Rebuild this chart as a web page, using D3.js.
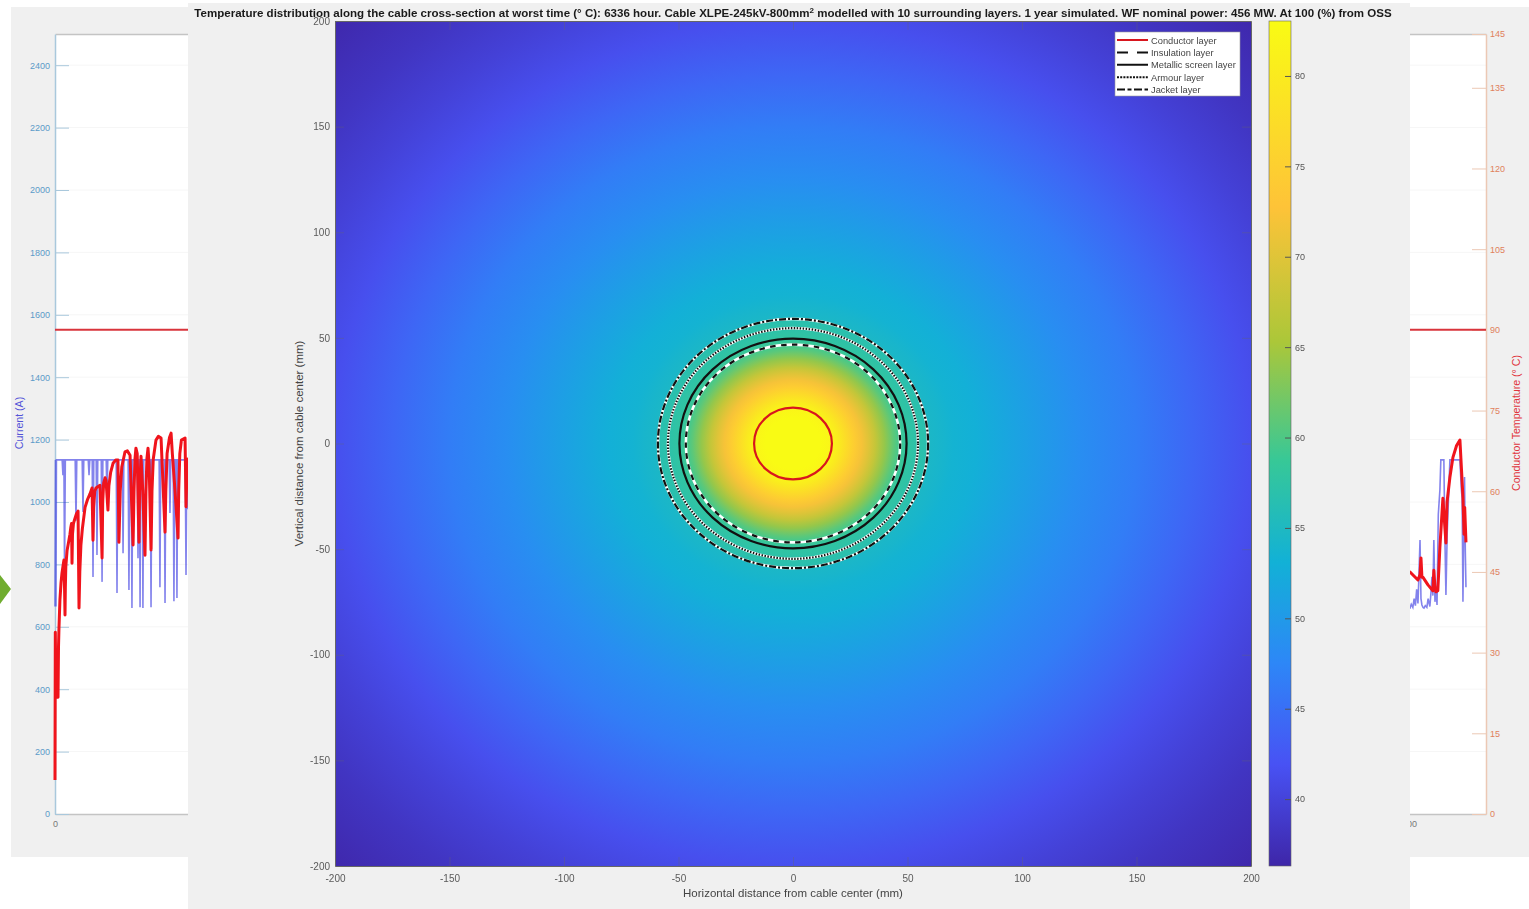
<!DOCTYPE html>
<html>
<head>
<meta charset="utf-8">
<script src="https://cdn.jsdelivr.net/npm/d3@7"></script>
<style>
    body { margin: 0; background: #fff; }
    text { font-family: "Liberation Sans", Arial, sans-serif; }
    svg { filter: blur(0.35px); }
</style>
</head>
<body>
<div id="chart"></div>
<script>
// ---- data ----
const currentTicks = [0, 200, 400, 600, 800, 1000, 1200, 1400, 1600, 1800, 2000, 2200, 2400];
const tempTicks = [0, 15, 30, 45, 60, 75, 90, 105, 120, 135, 145];
const hourTicks = [0, 8500];
const tempLimit = 90;

// current (A), the part of the year that is not hidden by the front figure
const currentHours = [0, 3, 6, 9, 45, 50, 55, 56, 60, 65, 127, 132, 137, 171, 176, 181, 209, 214, 219, 234, 239, 244, 259, 264, 269,
    291, 296, 301, 322, 327, 332, 385, 390, 395, 423, 428, 433, 460, 465, 470, 479, 484, 489, 517, 522, 527, 531, 535, 539, 549, 553, 558,
    599, 604, 609, 655, 660, 665, 687, 692, 697, 718, 723, 728, 743, 748, 753, 762, 767, 772, 819, 824, 829, 836,
    8522, 8530, 8540, 8548, 8556, 8564, 8572, 8578, 8585, 8591, 8597, 8604, 8610, 8618, 8628, 8636, 8647, 8654, 8660, 8666, 8672, 8679, 8685, 8692, 8700, 8710, 8716, 8722, 8735, 8741, 8748, 8756, 8773, 8836, 8845, 8850, 8855, 8860, 8865, 8870, 8874];
const currentValues = [665, 1135, 665, 1135, 1135, 1086, 1135, 1135, 780, 1135, 1135, 940, 1135, 1135, 968, 1135, 1135, 1086, 1135, 1135, 760, 1135, 1135, 830, 1135,
    1135, 744, 1135, 1135, 1013, 1135, 1135, 708, 1135, 1135, 836, 1135, 1135, 718, 1135, 1135, 660, 1135, 1135, 820, 1135, 1135, 663, 1135, 1135, 660, 1135,
    1135, 663, 1135, 1135, 727, 1135, 1135, 676, 1135, 1135, 965, 1135, 1135, 682, 1135, 1135, 692, 1135, 1135, 766, 1135, 980,
    660, 672, 662, 690, 668, 720, 675, 760, 878, 690, 670, 662, 660, 668, 662, 690, 665, 710, 760, 700, 878, 680, 730, 670, 960, 1038, 1135, 1135, 1135, 900, 702, 900, 1135, 1135, 1040, 1010, 680, 900, 1080, 840, 727];

// conductor temperature (deg C)
const tempHours = [0, 2, 6, 19, 22, 25, 31, 38, 44, 50, 56, 60, 63, 65, 68, 76, 88, 94, 99, 104, 107, 110, 116, 126, 135, 145, 151, 156, 163, 172, 189, 205, 220, 233, 239, 243, 250, 258, 283, 296, 300, 306, 315, 321, 333, 339, 350, 365, 382, 396, 402,
    410, 420, 440, 455, 472, 491, 497, 503, 509, 517, 528, 532, 541, 552, 566, 572, 578, 585, 592, 604, 610, 618, 635, 650, 667, 692, 697, 705, 720, 730, 738, 755, 774, 778, 785, 795, 818, 824, 830, 836,
    8522, 8572, 8585, 8591, 8597, 8604, 8635, 8666, 8672, 8679, 8685, 8697, 8710, 8729, 8748, 8755, 8773, 8792, 8815, 8836, 8855, 8862, 8866, 8874];
const tempValues = [6.3, 33.8, 21.7, 21.7, 31, 34.6, 39.8, 43, 44.8, 46, 47.2, 42, 37, 42, 46, 49, 51, 52, 53.2, 54, 46.6, 52, 54, 55, 55.8, 56.3, 38.3, 45, 50, 53, 57, 58.5, 59.5, 60.6, 50.9, 57, 60, 60.6, 61.1, 47.6, 58, 61.5, 62.5, 62, 56.5, 61, 63.5, 65.2, 65.8, 65.8, 50.5,
    60, 64.5, 67.3, 67.5, 66.7, 50, 60, 66, 68, 67, 50.5, 60, 66.5, 60, 48.1, 60, 66, 68, 65, 49.1, 60, 66, 69.5, 70.2, 69.9, 52.4, 60, 67, 70, 70.8, 67, 60, 51.3, 60, 67, 69.5, 69.9, 57.1, 64, 66,
    45, 43.5, 44.5, 47.6, 44, 44, 42.6, 41.5, 45.3, 42, 41.3, 41.5, 49.6, 58.7, 50.4, 58, 62.6, 66.3, 68.5, 69.5, 58.9, 52, 57, 50.5];

// temperature seen at a given distance from the cable center
const profileRadius = [0, 12, 17, 20, 23, 27, 30, 33, 36, 40, 44, 47, 50, 55, 59, 60, 65, 70, 80, 100, 125, 150, 175, 200, 225, 250, 283];
const profileTemp = [83.2, 83, 82, 80, 77.5, 74.5, 72, 70, 67.5, 64, 60.8, 59, 57.8, 57, 56.5, 54.5, 54, 53.5, 53, 51, 48.5, 46.5, 44, 41.5, 39.8, 38.2, 36.6];

// cable layers
const layerNames = ["Conductor layer", "Insulation layer", "Metallic screen layer", "Armour layer", "Jacket layer"];
const layerRadius = [17, 46.8, 49.6, 54.6, 59];
const layerColors = ["#d8161e", "#111", "#111", "#111", "#111"];
const layerDash = [null, "5.5,5.5", null, "1.5,1.5", "7,2,2,2"];
const legendDash = [null, "11,9", null, "2,1.2", "8,2.5,4,2.5"];
const layerHalo = [false, true, false, true, true];

const mainTicks = [-200, -150, -100, -50, 0, 50, 100, 150, 200];
const barTicks = [40, 45, 50, 55, 60, 65, 70, 75, 80];
const parulaStops = ["#3e26a8", "#4852f4", "#2d87f7", "#12b1d6", "#37c897", "#abc739", "#fec338", "#f9fb14"];
const parulaAt = [0, 0.12, 0.24, 0.36, 0.48, 0.62, 0.78, 1];

const canvWidth = 1529;
const canvHeight = 909;

// create svg canvas
const svg = d3.select("#chart").append("svg")
    .attr("width", canvWidth)
    .attr("height", canvHeight)
    .style("display", "block");
const defs = svg.append("defs");

// ---- figure at the back ----
svg.append("rect")
    .attr("x", 11).attr("y", 7)
    .attr("width", canvWidth - 11).attr("height", 850)
    .attr("fill", "#f0f0f0");

// green arrow at the slide edge
svg.append("polygon")
    .attr("points", "0,575 11,589 0,604")
    .attr("fill", "#70ad2f");

const hourScale = d3.scaleLinear().domain([0, 9000]).range([55, 1486]);
const currentScale = d3.scaleLinear().domain([0, 2500]).range([814, 34]);
const tempScale = d3.scaleLinear().domain([0, 145]).range([814, 34]);

svg.append("rect")
    .attr("x", hourScale(0)).attr("y", currentScale(2500))
    .attr("width", hourScale(9000) - hourScale(0))
    .attr("height", currentScale(0) - currentScale(2500))
    .attr("fill", "#fff");

// grid
svg.append("g").selectAll("line")
    .data(currentTicks.slice(1))
    .join("line")
    .attr("x1", hourScale(0)).attr("x2", hourScale(9000))
    .attr("y1", d => currentScale(d)).attr("y2", d => currentScale(d))
    .attr("stroke", "#f6f6f6");

function styleAxis(g, lineColor, textColor, size) {
    g.selectAll("path").attr("stroke", lineColor).attr("stroke-width", 1.5);
    g.selectAll("line").attr("stroke", lineColor);
    g.selectAll("text")
        .attr("fill", textColor)
        .attr("font-size", size)
        .attr("font-family", "'Liberation Sans', Arial, sans-serif");
}

// back axes
svg.append("g")
    .attr("transform", `translate(0,${currentScale(2500)})`)
    .call(d3.axisTop(hourScale).tickValues([]).tickSizeOuter(0))
    .call(styleAxis, "#c4c4c4", "#777", 9);
svg.append("g")
    .attr("transform", `translate(0,${currentScale(0)})`)
    .call(d3.axisBottom(hourScale).tickValues(hourTicks).tickSize(0).tickPadding(7).tickFormat(d => d))
    .call(styleAxis, "#c4c4c4", "#777", 9);
svg.append("g")
    .attr("transform", `translate(${hourScale(0)},0)`)
    .call(d3.axisLeft(currentScale).tickValues(currentTicks).tickSize(-14).tickSizeOuter(0).tickPadding(5).tickFormat(d => d))
    .call(styleAxis, "#a9c8dc", "#5b9ac8", 9);
svg.append("g")
    .attr("transform", `translate(${hourScale(9000)},0)`)
    .call(d3.axisRight(tempScale).tickValues(tempTicks).tickSize(-14).tickSizeOuter(0).tickPadding(4))
    .call(styleAxis, "#ecc8b4", "#e0805c", 9);

// limit line
svg.append("line")
    .attr("x1", hourScale(0)).attr("x2", hourScale(9000))
    .attr("y1", tempScale(tempLimit)).attr("y2", tempScale(tempLimit))
    .attr("stroke", "#d9343c")
    .attr("stroke-width", 2);

// current and temperature
const currentLine = d3.line().x(d => hourScale(d[0])).y(d => currentScale(d[1]));
const tempLine = d3.line().x(d => hourScale(d[0])).y(d => tempScale(d[1]));

svg.append("path")
    .attr("d", currentLine(d3.zip(currentHours, currentValues)))
    .attr("fill", "none")
    .attr("stroke", "#3030e0")
    .attr("stroke-opacity", 0.6)
    .attr("stroke-width", 1.6);

svg.append("path")
    .attr("d", tempLine(d3.zip(tempHours, tempValues)))
    .attr("fill", "none")
    .attr("stroke", "#f0141c")
    .attr("stroke-linejoin", "round")
    .attr("stroke-width", 3);

svg.append("text")
    .attr("transform", "translate(23,423) rotate(-90)")
    .attr("text-anchor", "middle")
    .attr("font-size", 10.6)
    .attr("fill", "#5252d8")
    .text("Current (A)");
svg.append("text")
    .attr("transform", "translate(1520,423) rotate(-90)")
    .attr("text-anchor", "middle")
    .attr("font-size", 10.6)
    .attr("fill", "#e0343c")
    .text("Conductor Temperature (° C)");

// ---- figure in front ----
svg.append("rect")
    .attr("x", 188).attr("y", 3)
    .attr("width", 1222).attr("height", canvHeight - 3)
    .attr("fill", "#f0f0f0");

const xMain = d3.scaleLinear().domain([-200, 200]).range([335, 1251]);
const yMain = d3.scaleLinear().domain([-200, 200]).range([866, 21]);
const barScale = d3.scaleLinear().domain([36.3, 83.04]).range([866, 21]);

const colorScale = d3.scaleLinear()
    .domain(parulaAt.map(d => 36.3 + d * (83.04 - 36.3)))
    .range(parulaStops)
    .clamp(true);

// temperature field
const maxRadius = d3.max(profileRadius);
const field = defs.append("radialGradient")
    .attr("id", "field")
    .attr("gradientUnits", "userSpaceOnUse")
    .attr("cx", 0).attr("cy", 0).attr("r", 1)
    .attr("gradientTransform", `translate(${xMain(0)},${yMain(0)}) scale(${xMain(maxRadius) - xMain(0)},${yMain(0) - yMain(maxRadius)})`);
field.selectAll("stop")
    .data(profileRadius)
    .join("stop")
    .attr("offset", d => d / maxRadius)
    .attr("stop-color", (d, i) => colorScale(profileTemp[i]));

svg.append("rect")
    .attr("x", xMain(-200)).attr("y", yMain(200))
    .attr("width", xMain(200) - xMain(-200))
    .attr("height", yMain(-200) - yMain(200))
    .attr("fill", "url(#field)");

// cable layers
const layers = svg.append("g").attr("fill", "none");
layerRadius.forEach(function (r, i) {
    if (layerHalo[i]) {
        layers.append("ellipse")
            .attr("cx", xMain(0)).attr("cy", yMain(0))
            .attr("rx", xMain(r) - xMain(0)).attr("ry", yMain(0) - yMain(r))
            .attr("stroke", "#fff")
            .attr("stroke-width", 2.6);
    }
    layers.append("ellipse")
        .attr("cx", xMain(0)).attr("cy", yMain(0))
        .attr("rx", xMain(r) - xMain(0)).attr("ry", yMain(0) - yMain(r))
        .attr("stroke", layerColors[i])
        .attr("stroke-dasharray", layerDash[i])
        .attr("stroke-width", 2.2);
});

// main axes, ticks are faint on the field
function faintTicks(g) {
    g.selectAll(".tick line").attr("stroke-opacity", 0.35);
    g.select(".domain").attr("stroke-width", 1);
}
svg.append("g")
    .attr("transform", `translate(0,${yMain(-200)})`)
    .call(d3.axisBottom(xMain).tickValues(mainTicks).tickSize(-9).tickSizeOuter(0).tickPadding(9).tickFormat(d => d))
    .call(styleAxis, "#666", "#5a5a5a", 10)
    .call(faintTicks);
svg.append("g")
    .attr("transform", `translate(${xMain(-200)},0)`)
    .call(d3.axisLeft(yMain).tickValues(mainTicks).tickSize(-9).tickSizeOuter(0).tickPadding(5).tickFormat(d => d))
    .call(styleAxis, "#666", "#5a5a5a", 10)
    .call(faintTicks);
svg.append("g")
    .attr("transform", `translate(0,${yMain(200)})`)
    .call(d3.axisTop(xMain).tickValues(mainTicks).tickSize(-9).tickSizeOuter(0).tickFormat(""))
    .call(styleAxis, "#666", "#5a5a5a", 10)
    .call(faintTicks);
svg.append("g")
    .attr("transform", `translate(${xMain(200)},0)`)
    .call(d3.axisRight(yMain).tickValues(mainTicks).tickSize(-9).tickSizeOuter(0).tickFormat(""))
    .call(styleAxis, "#666", "#5a5a5a", 10)
    .call(faintTicks);

svg.append("text")
    .attr("x", xMain(0)).attr("y", 897)
    .attr("text-anchor", "middle")
    .attr("font-size", 11.5)
    .attr("fill", "#444")
    .text("Horizontal distance from cable center (mm)");
svg.append("text")
    .attr("transform", `translate(303,${yMain(0)}) rotate(-90)`)
    .attr("text-anchor", "middle")
    .attr("font-size", 11.5)
    .attr("fill", "#444")
    .text("Vertical distance from cable center (mm)");

// title
const title = svg.append("text")
    .attr("x", xMain(0)).attr("y", 16.5)
    .attr("text-anchor", "middle")
    .attr("font-size", 11.55)
    .attr("font-weight", "bold")
    .attr("fill", "#1a1a1a");
title.append("tspan").text("Temperature distribution along the cable cross-section at worst time (° C): 6336 hour. Cable XLPE-245kV-800mm");
title.append("tspan").attr("dy", -4).attr("font-size", 8).text("2");
title.append("tspan").attr("dy", 4).text(" modelled with 10 surrounding layers. 1 year simulated. WF nominal power: 456 MW. At 100 (%) from OSS");

// colorbar
const barGradient = defs.append("linearGradient")
    .attr("id", "bar")
    .attr("x1", 0).attr("x2", 0).attr("y1", 1).attr("y2", 0);
barGradient.selectAll("stop")
    .data(parulaAt)
    .join("stop")
    .attr("offset", d => d)
    .attr("stop-color", (d, i) => parulaStops[i]);

svg.append("rect")
    .attr("x", 1269).attr("y", barScale(83.04))
    .attr("width", 22)
    .attr("height", barScale(36.3) - barScale(83.04))
    .attr("fill", "url(#bar)")
    .attr("stroke", "#666")
    .attr("stroke-width", 0.6);
svg.append("g")
    .attr("transform", "translate(1291,0)")
    .call(d3.axisRight(barScale).tickValues(barTicks).tickSize(-6).tickSizeOuter(0).tickPadding(4))
    .call(styleAxis, "#555", "#555", 9)
    .call(g => g.select(".domain").remove());

// legend
svg.append("rect")
    .attr("x", 1115).attr("y", 32)
    .attr("width", 125).attr("height", 64)
    .attr("fill", "#fff")
    .attr("stroke", "#999")
    .attr("stroke-width", 0.6);
const legendScale = d3.scalePoint().domain(layerNames).range([40, 89.5]);
const legendRow = svg.append("g").selectAll("g")
    .data(layerNames)
    .join("g")
    .attr("transform", d => `translate(0,${legendScale(d)})`);
legendRow.append("line")
    .attr("x1", 1117).attr("x2", 1148)
    .attr("stroke", (d, i) => layerColors[i])
    .attr("stroke-dasharray", (d, i) => legendDash[i])
    .attr("stroke-width", 2);
legendRow.append("text")
    .attr("x", 1151).attr("y", 3.5)
    .attr("font-size", 9.3)
    .attr("fill", "#444")
    .text(d => d);
</script>
</body>
</html>
